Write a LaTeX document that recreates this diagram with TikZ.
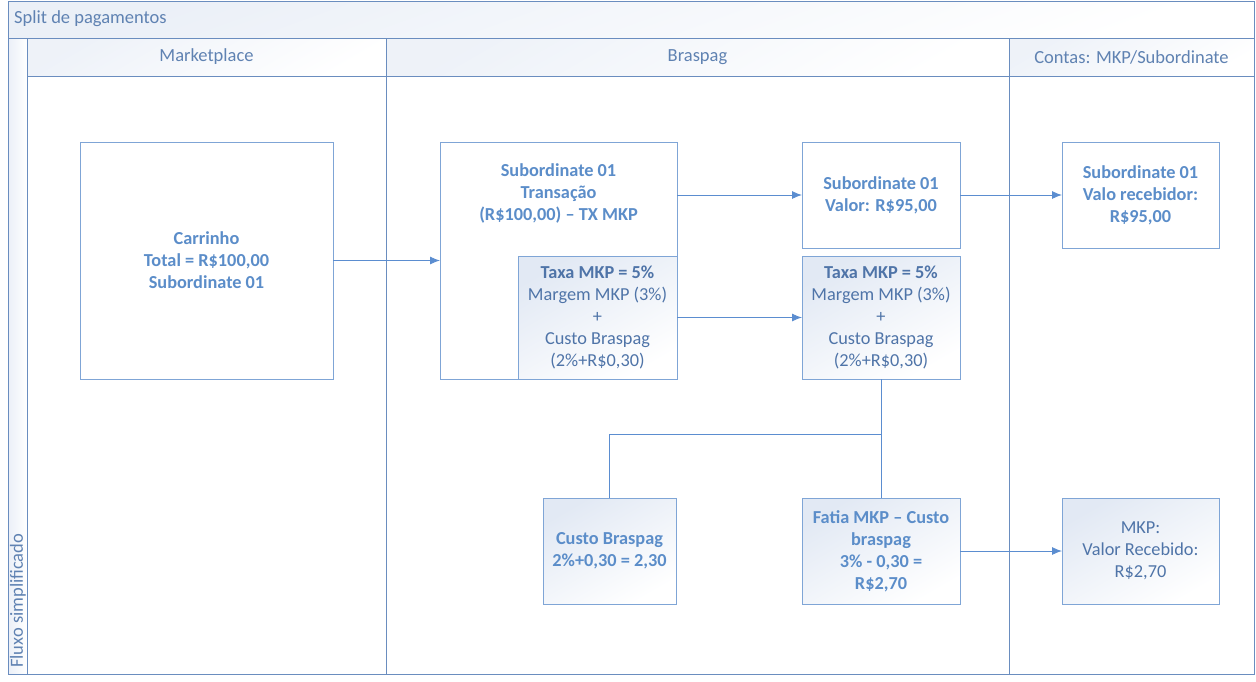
\documentclass[tikz,border=0pt]{standalone}
\usepackage{fontspec}
\setmainfont{Carlito}
\usetikzlibrary{arrows.meta}
\definecolor{laneline}{HTML}{6A8DBF}
\definecolor{boxline}{HTML}{7FA5D6}
\definecolor{txtblue}{HTML}{5B8DC9}
\definecolor{txtdark}{HTML}{4F74A8}
\definecolor{txthead}{HTML}{5F82B2}
\definecolor{shadeblue}{HTML}{E2E9F4}
\definecolor{arrowcol}{HTML}{5B8DD0}
\tikzset{
  box/.style={draw=boxline, line width=1pt, fill=white, inner sep=0pt, outer sep=0pt, align=center,
    font=\fontsize{18.3}{22}\selectfont\bfseries, text=txtblue},
  gbox/.style={box, top color=shadeblue, bottom color=white, shading angle=30},
  conn/.style={draw=arrowcol, line width=0.9pt},
  arr/.style={conn, -{Latex[length=10pt,width=8pt]}},
  head/.style={font=\fontsize{18.5}{22}\selectfont, text=txthead, inner sep=0pt},
  lane/.style={draw=laneline, line width=1pt}
}
\begin{document}
\begin{tikzpicture}[x=1pt,y=-1pt]
\useasboundingbox (0,0) rectangle (1256,681);
% pool frame
\shade[top color=shadeblue!70, bottom color=white, shading angle=20] (8,1) rectangle (1254,38);
\shade[left color=shadeblue!70, right color=white] (8,38) rectangle (27,674);
\shade[top color=shadeblue!60, bottom color=white, shading angle=30] (27,38) rectangle (386,76);
\shade[top color=shadeblue!60, bottom color=white, shading angle=30] (386,38) rectangle (1009,76);
\shade[top color=shadeblue!60, bottom color=white, shading angle=30] (1009,38) rectangle (1254,76);
\draw[lane] (8,1) rectangle (1254,674);
\draw[lane] (8,38) -- (1254,38);
\draw[lane] (27,38) -- (27,674);
\draw[lane] (27,76) -- (1254,76);
\draw[lane] (386,38) -- (386,674);
\draw[lane] (1009,38) -- (1009,674);
\node[head, anchor=west] (title) at (14,19) {Split de pagamentos};
\node[head, rotate=90, anchor=west] (pool) at (18,668) {Fluxo simplificado};
\node[head] (hmkt) at (206.5,57) {Marketplace};
\node[head] (hbra) at (697.5,57) {Braspag};
\node[head] (hcon) at (1131.5,57) {Contas: MKP/Subordinate};
% boxes
\node[box, minimum width=253pt, minimum height=237pt] (carr) at (206.5,260.5)
  {Carrinho\\Total = R\$100,00\\Subordinate 01};
\node[box, minimum width=237pt, minimum height=237pt] (trans) at (558.5,260.5) {};
\node[box, fill=none, draw=none, anchor=north] (transtxt) at (558.5,164)
  {Subordinate 01\\Transação\\(R\$100,00) – TX MKP};
\node[gbox, minimum width=159pt, minimum height=123pt, font=\fontsize{18.3}{22}\selectfont, text=txtdark] (taxa1) at (597.5,317.5)
  {\textbf{Taxa MKP = 5\%}\\Margem MKP (3\%)\\+\\Custo Braspag\\(2\%+R\$0,30)};
\node[box, minimum width=158pt, minimum height=106pt] (valor) at (881,195)
  {Subordinate 01\\Valor: R\$95,00};
\node[gbox, minimum width=158pt, minimum height=123pt, font=\fontsize{18.3}{22}\selectfont, text=txtdark] (taxa2) at (881,317.5)
  {\textbf{Taxa MKP = 5\%}\\Margem MKP (3\%)\\+\\Custo Braspag\\(2\%+R\$0,30)};
\node[box, minimum width=157pt, minimum height=106pt] (receb) at (1140.5,195)
  {Subordinate 01\\Valo recebidor:\\R\$95,00};
\node[gbox, minimum width=133pt, minimum height=106pt] (custo) at (609.5,551)
  {Custo Braspag\\2\%+0,30 = 2,30};
\node[gbox, minimum width=158pt, minimum height=106pt] (fatia) at (881,551)
  {Fatia MKP – Custo\\braspag\\3\% - 0,30 =\\R\$2,70};
\node[gbox, minimum width=157pt, minimum height=106pt, font=\fontsize{18.3}{22}\selectfont, text=txtdark] (mkp) at (1140.5,551)
  {MKP:\\Valor Recebido:\\R\$2,70};
% connectors
\draw[arr] (carr.east) -- (trans.west);
\draw[arr] (trans.east |- valor.west) -- (valor.west);
\draw[arr] (taxa1.east) -- (taxa2.west);
\draw[arr] (valor.east) -- (receb.west);
\draw[conn] (taxa2.south) -- (fatia.north);
\coordinate (split) at (881,434);
\draw[conn] (split) -| (custo.north);
\draw[arr] (fatia.east) -- (mkp.west);
\end{tikzpicture}
\end{document}
